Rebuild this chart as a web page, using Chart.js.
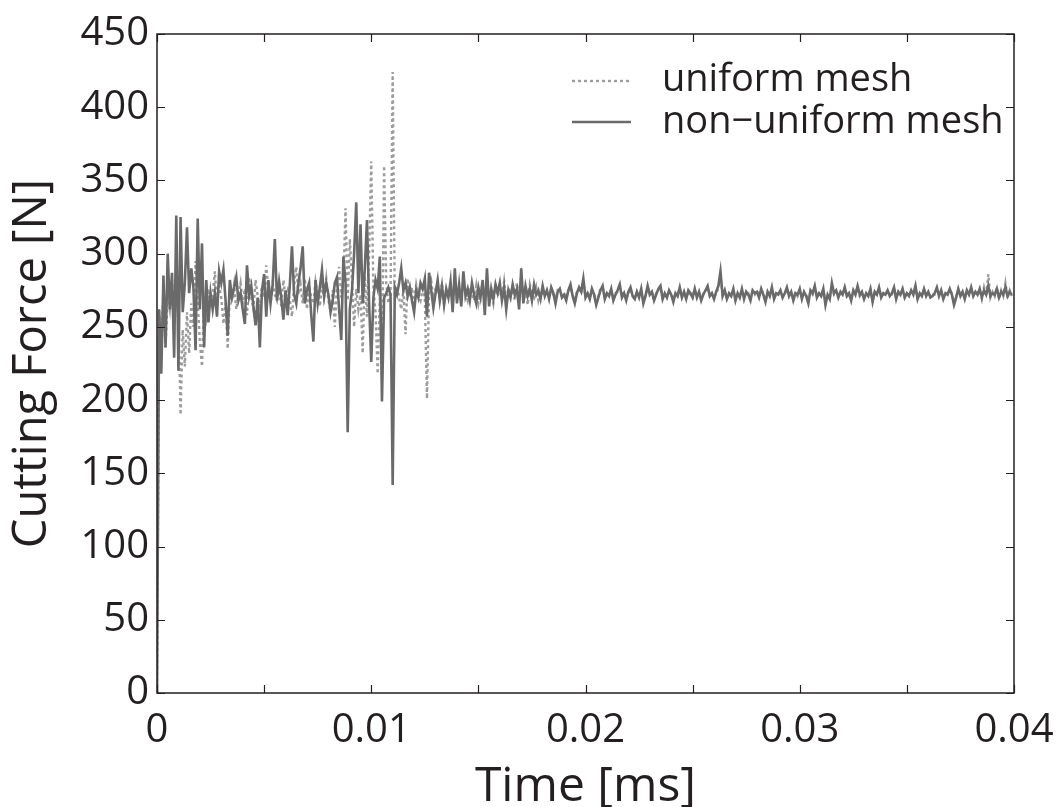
<!DOCTYPE html>
<html>
<head>
<meta charset="utf-8">
<script src="https://cdn.jsdelivr.net/npm/chart.js@4/dist/chart.umd.min.js"></script>
<style>
  html, body { margin: 0; padding: 0; background: #ffffff; }
  #wrap { width: 1059px; height: 807px; position: relative; }
</style>
</head>
<body>
<div id="wrap"><canvas id="c" width="1059" height="807"></canvas></div>
<script>
// ---- data (sampled every 0.0001 ms) ----
const timeStep = 0.0001;

const nonUniformMesh = [
  0, 262, 218, 285, 236, 300, 262, 287, 229, 326,
  220, 325, 260, 280, 318, 273, 290, 277, 234, 324,
  262, 307, 236, 282, 253, 273, 262, 273, 257, 288,
  280, 289, 268, 244, 282, 270, 277, 284, 268, 273,
  262, 252, 292, 271, 278, 264, 251, 270, 236, 275,
  286, 257, 282, 266, 279, 310, 268, 281, 270, 255,
  275, 258, 279, 305, 272, 266, 280, 290, 305, 266,
  275, 280, 258, 240, 282, 266, 277, 289, 271, 280,
  272, 260, 268, 280, 284, 262, 241, 298, 280, 178,
  262, 275, 300, 335, 273, 320, 266, 290, 323, 266,
  226, 270, 282, 276, 298, 199, 270, 273, 277, 272,
  142, 277, 272, 280, 290, 275, 280, 271, 277, 268,
  260, 275, 270, 280, 276, 283, 257, 287, 275, 263,
  273,
  282, 268, 278, 265, 276, 270, 281, 260, 290, 266,
  279, 264, 288, 271, 276, 268, 280, 272, 266, 277,
  270, 282, 258, 290, 264, 276, 269, 279, 273, 280,
  268, 277, 262, 275, 270, 279, 272, 276, 262, 290,
  266, 278, 271, 276, 268, 279, 272, 275, 269, 278,
  271, 275, 269, 277, 273, 266, 274, 276, 270, 272,
  268, 275, 279, 271, 266, 273, 277, 274, 283, 270,
  273, 269, 276, 272, 265, 270, 275, 278, 269, 273,
  271, 276, 268, 272, 275, 279, 270, 273, 268, 274,
  277, 271, 269, 274, 270, 276, 266, 271, 278, 272,
  274, 268, 272, 276, 278, 269, 273, 270, 275, 272,
  267, 273, 271, 277, 270, 274, 269, 275, 273, 270,
  276, 270, 274, 268, 272, 275, 278, 271, 273, 269,
  274, 278, 288, 271, 275, 269, 273, 271, 276, 268,
  273, 270, 276, 269, 274, 272, 268, 275, 273, 274,
  270, 276, 272, 267, 274, 271, 277, 269, 273, 272,
  275, 270, 273, 277, 271, 274, 268, 273, 272, 276,
  269, 274, 271, 266, 275, 273, 278, 270, 273, 271,
  276, 265, 272, 269, 280, 273, 275, 270, 274, 272,
  277, 271, 273, 268, 275, 272, 278, 272, 274, 269,
  273, 271, 276, 267, 274, 272, 277, 270, 273, 272,
  275, 271, 273, 277, 269, 274, 272, 276, 270, 273,
  271, 275, 272, 278, 269, 273, 271, 276, 271, 274,
  270, 271, 273, 277, 271, 275, 269, 273, 272, 276,
  272, 265, 270, 276, 271, 274, 269, 275, 272, 277,
  271, 274, 272, 276, 270, 275, 272, 278, 271, 273,
  272, 276, 270, 274, 272, 277, 271, 274, 272
];

const uniformMesh = [
  0, 258, 250, 270, 236, 272, 262, 280, 245, 290,
  262, 190, 248, 223, 260, 232, 266, 250, 295, 268,
  240, 223, 270, 258, 276, 264, 272, 288, 265, 278,
  270, 252, 266, 235, 276, 268, 279, 262, 272, 280,
  266, 276, 258, 284, 270, 262, 282, 271, 264, 278,
  270, 292, 274, 266, 280, 272, 268, 277, 264, 282,
  270, 275, 268, 257, 278, 291, 272, 279, 266, 283,
  262, 278, 270, 266, 281, 272, 264, 278, 270, 283,
  268, 261, 275, 250, 279, 291, 270, 282, 331, 268,
  310, 282, 250, 276, 262, 272, 232, 285, 257, 300,
  363, 276, 260, 218, 270, 214, 360, 280, 266, 272,
  424, 268, 278, 270, 262, 275, 245, 283, 270, 277,
  266, 279, 272, 268, 276, 270, 201, 275, 281, 270,
  276,
  276, 270, 280, 266, 274, 271, 278, 264, 284, 270,
  275, 268, 282, 273, 268, 277, 272, 268, 278, 266,
  274, 279, 268, 284, 270, 273, 266, 280, 271, 276,
  270, 281, 266, 277, 272, 275, 268, 280, 270, 284,
  271, 276, 265, 279, 273, 270, 277, 268, 274, 271,
  273, 274, 270, 276, 272, 268, 275, 274, 271, 273,
  270, 274, 277, 272, 268, 274, 276, 273, 280, 271,
  272, 270, 275, 273, 267, 271, 276, 277, 270, 272,
  272, 275, 269, 273, 274, 277, 271, 274, 269, 273,
  276, 272, 270, 273, 271, 275, 268, 272, 277, 273,
  273, 269, 273, 275, 277, 270, 272, 271, 274, 273,
  269, 272, 272, 276, 271, 273, 270, 274, 272, 271,
  275, 271, 273, 269, 273, 274, 277, 272, 272, 270,
  273, 276, 284, 272, 274, 270, 272, 272, 275, 269,
  272, 271, 275, 270, 273, 273, 269, 274, 272, 275,
  271, 275, 273, 268, 273, 272, 276, 270, 272, 273,
  274, 271, 272, 276, 272, 273, 269, 274, 271, 275,
  270, 273, 272, 268, 274, 272, 277, 271, 272, 272,
  275, 267, 271, 270, 278, 272, 274, 271, 273, 273,
  276, 272, 272, 269, 274, 273, 277, 271, 273, 270,
  272, 272, 275, 268, 273, 273, 276, 271, 272, 273,
  274, 272, 272, 276, 270, 273, 273, 275, 271, 272,
  272, 274, 273, 277, 270, 272, 272, 275, 272, 273,
  271, 272, 272, 276, 272, 274, 270, 272, 273, 275,
  273, 267, 271, 275, 272, 273, 270, 274, 273, 276,
  272, 273, 273, 275, 269, 277, 271, 286, 270, 274,
  271, 277, 269, 275, 271, 280, 270, 275, 271
];

const seriesLabels = ['uniform mesh', 'non\u2212uniform mesh'];
const xTickValues = [0, 0.005, 0.01, 0.015, 0.02, 0.025, 0.03, 0.035, 0.04];
const xTickLabels = ['0', '', '0.01', '', '0.02', '', '0.03', '', '0.04'];
const yTickValues = [0, 50, 100, 150, 200, 250, 300, 350, 400, 450];
const yTickLabels = ['0', '50', '100', '150', '200', '250', '300', '350', '400', '450'];

// ---- styling ----
const FONT = "'Open Sans', 'DejaVu Sans', sans-serif";
const TEXT_COLOR = '#231f20';
const SOLID_COLOR = '#6a6a6a';
const DOTTED_COLOR = '#9c9c9c';
const DOTTED_DASH = [3, 3];

const toPoints = arr => arr.map((v, i) => ({ x: i * timeStep, y: v }));

const frameAndLegend = {
  id: 'frameAndLegend',
  afterDatasetsDraw(chart) {
    const { ctx, chartArea: a, scales: { x, y } } = chart;
    ctx.save();
    ctx.strokeStyle = TEXT_COLOR;
    ctx.lineWidth = 1.5;
    ctx.strokeRect(a.left, a.top, a.right - a.left, a.bottom - a.top);
    const L = 8;
    ctx.beginPath();
    xTickValues.forEach(v => {
      const px = Math.round(x.getPixelForValue(v)) + 0.5;
      ctx.moveTo(px, a.bottom); ctx.lineTo(px, a.bottom - L);
      ctx.moveTo(px, a.top); ctx.lineTo(px, a.top + L);
    });
    yTickValues.forEach(v => {
      const py = Math.round(y.getPixelForValue(v)) + 0.5;
      ctx.moveTo(a.left, py); ctx.lineTo(a.left + L, py);
      ctx.moveTo(a.right, py); ctx.lineTo(a.right - L, py);
    });
    ctx.lineWidth = 1.2;
    ctx.stroke();

    // legend (upper right, inside axes)
    const ds = chart.data.datasets;
    const rows = [
      { d: ds[1], ly: 81, ty: 91 },
      { d: ds[0], ly: 122, ty: 133 }
    ];
    rows.forEach(r => {
      ctx.beginPath();
      ctx.strokeStyle = r.d.borderColor;
      ctx.lineWidth = r.d.borderWidth;
      ctx.setLineDash(r.d.borderDash || []);
      ctx.moveTo(572, r.ly); ctx.lineTo(631, r.ly);
      ctx.stroke();
      ctx.setLineDash([]);
      ctx.fillStyle = TEXT_COLOR;
      ctx.font = '38px ' + FONT;
      ctx.textAlign = 'left';
      ctx.textBaseline = 'alphabetic';
      ctx.fillText(r.d.label, 662, r.ty);
    });
    ctx.restore();
  }
};

new Chart(document.getElementById('c'), {
  type: 'line',
  data: {
    datasets: [
      {
        label: seriesLabels[1],
        data: toPoints(nonUniformMesh),
        borderColor: SOLID_COLOR,
        borderWidth: 2.6,
        pointRadius: 0,
        tension: 0,
        fill: false,
        order: 0
      },
      {
        label: seriesLabels[0],
        data: toPoints(uniformMesh),
        borderColor: DOTTED_COLOR,
        borderWidth: 2.4,
        borderDash: DOTTED_DASH,
        pointRadius: 0,
        tension: 0,
        fill: false,
        order: 1
      }
    ]
  },
  options: {
    responsive: false,
    animation: false,
    events: [],
    layout: { padding: { top: 34, right: 45, left: 0, bottom: 0 } },
    plugins: { legend: { display: false }, tooltip: { enabled: false } },
    scales: {
      x: {
        type: 'linear',
        min: 0, max: 0.04,
        afterFit: s => { s.height = 114; s.paddingLeft = 0; s.paddingRight = 0; },
        afterBuildTicks: s => { s.ticks = xTickValues.map(v => ({ value: v })); },
        grid: { display: false, drawTicks: false },
        border: { display: false },
        ticks: {
          autoSkip: false, maxRotation: 0, padding: 14,
          color: TEXT_COLOR,
          font: { family: FONT, size: 40 },
          callback: (v) => { const k = xTickValues.findIndex(t => Math.abs(t - v) < 1e-9); return k >= 0 ? xTickLabels[k] : ''; }
        },
        title: {
          display: true, text: 'Time [ms]', color: TEXT_COLOR,
          font: { family: FONT, size: 48 }, padding: { top: 0, bottom: -9 }
        }
      },
      y: {
        type: 'linear',
        min: 0, max: 450,
        afterFit: s => { s.width = 157; s.paddingTop = 0; s.paddingBottom = 0; },
        afterBuildTicks: s => { s.ticks = yTickValues.map(v => ({ value: v })); },
        grid: { display: false, drawTicks: false },
        border: { display: false },
        ticks: {
          autoSkip: false, padding: 8,
          color: TEXT_COLOR,
          font: { family: FONT, size: 40 },
          callback: (v) => { const k = yTickValues.indexOf(v); return k >= 0 ? yTickLabels[k] : ''; }
        },
        title: {
          display: true, text: 'Cutting Force [N]', color: TEXT_COLOR,
          font: { family: FONT, size: 47 }, padding: { top: 4, bottom: 0 }
        }
      }
    }
  },
  plugins: [frameAndLegend]
});
</script>
</body>
</html>
